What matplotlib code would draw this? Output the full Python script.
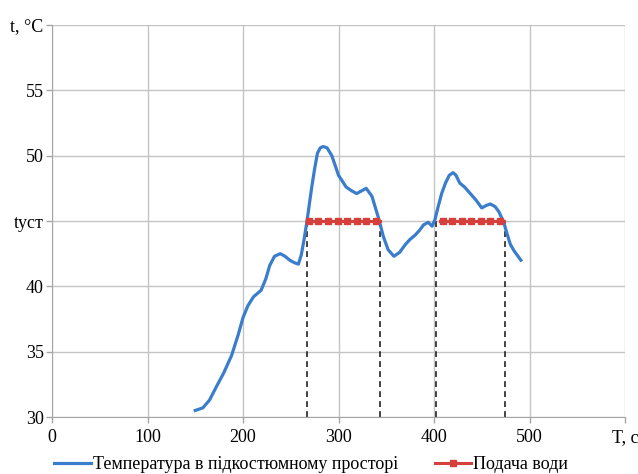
import matplotlib
matplotlib.use("Agg")
import matplotlib.pyplot as plt

# Температура
time_s = [150, 158, 165, 172, 180, 188, 195, 200, 205, 211, 219, 224, 228, 233,
          239, 244, 249, 254, 258, 261, 264, 267, 272, 275, 278, 281, 284, 288,
          293, 300, 308, 314, 319, 324, 329, 335, 342, 347, 352, 358, 364, 370,
          375, 380, 385, 389, 394, 398, 401, 404, 408, 412, 416, 420, 423, 427,
          432, 438, 444, 450, 455, 459, 464, 468, 473, 477, 480, 484, 488, 491]
temp_c = [30.5, 30.7, 31.3, 32.3, 33.4, 34.7, 36.3, 37.6, 38.5, 39.2, 39.7, 40.6,
          41.6, 42.3, 42.5, 42.3, 42.0, 41.8, 41.7, 42.4, 43.6, 45.0, 47.6, 49.0,
          50.2, 50.6, 50.7, 50.6, 50.0, 48.5, 47.6, 47.3, 47.1, 47.3, 47.5, 46.9,
          45.2, 43.8, 42.8, 42.3, 42.6, 43.2, 43.6, 43.9, 44.3, 44.7, 44.9, 44.6,
          45.1, 46.0, 47.1, 47.9, 48.5, 48.7, 48.5, 47.9, 47.6, 47.1, 46.6, 46.0,
          46.2, 46.3, 46.1, 45.7, 44.9, 43.9, 43.2, 42.7, 42.3, 42.0]

# Подача води (two periods)
water1_x = [267, 269, 279, 289, 299, 309, 319, 329, 339, 343]
water2_x = [406, 409, 419, 429, 439, 449, 459, 469, 473]
t_set = 45

# vertical markers of start/stop
stop_lines = [267, 343, 402, 474]

x_ticks = [0, 100, 200, 300, 400, 500, 600]
x_labels = ['0', '100', '200', '300', '400', '500', 'T, c']
y_ticks = [30, 35, 40, 45, 50, 55, 60]
y_labels = ['30', '35', '40', 'tуст', '50', '55', 't, °C']

plt.rcParams['font.family'] = ['Liberation Serif', 'DejaVu Serif']

fig = plt.figure(figsize=(6.38, 4.74), dpi=100)
ax = fig.add_axes([52 / 638, 1 - 417 / 474, (625 - 52) / 638, (417 - 25) / 474])

blue = '#3a7dcc'
red = '#d6403c'

for xv in stop_lines:
    ax.plot([xv, xv], [30, t_set], color='#222222', lw=1.2, ls=(0, (3.5, 2.5)), zorder=2)

ax.plot(time_s, temp_c, color=blue, lw=2.3, zorder=3, solid_joinstyle='round',
        label='Температура в підкостюмному просторі')
ax.plot(water1_x, [t_set] * len(water1_x), color=red, lw=2.2, marker='s', ms=4.2,
        markevery=slice(1, -1), zorder=4, label='Подача води')
ax.plot(water2_x, [t_set] * len(water2_x), color=red, lw=2.2, marker='s', ms=4.2,
        markevery=slice(1, -1), zorder=4)

ax.set_xlim(0, 600)
ax.set_ylim(30, 60)
ax.set_xticks(x_ticks)
ax.set_xticklabels(x_labels)
ax.set_yticks(y_ticks)
ax.set_yticklabels(y_labels)
ax.grid(True, color='#c4c4c4', lw=1.0)
ax.set_axisbelow(True)
for side in ['top', 'right']:
    ax.spines[side].set_visible(False)
for side in ['left', 'bottom']:
    ax.spines[side].set_color('#a6a6a6')
ax.tick_params(axis='both', colors='#a6a6a6', labelcolor='black', labelsize=13,
               length=4, width=1.0)
ax.tick_params(axis='y', pad=2)
ax.tick_params(axis='x', pad=5)

fig.legend(loc='center', bbox_to_anchor=(0.488, 0.02), ncol=2, frameon=False,
           fontsize=13, handlelength=2.0, handletextpad=0.15, columnspacing=2.0,
           borderaxespad=0)

fig.savefig('out.png', dpi=100)
